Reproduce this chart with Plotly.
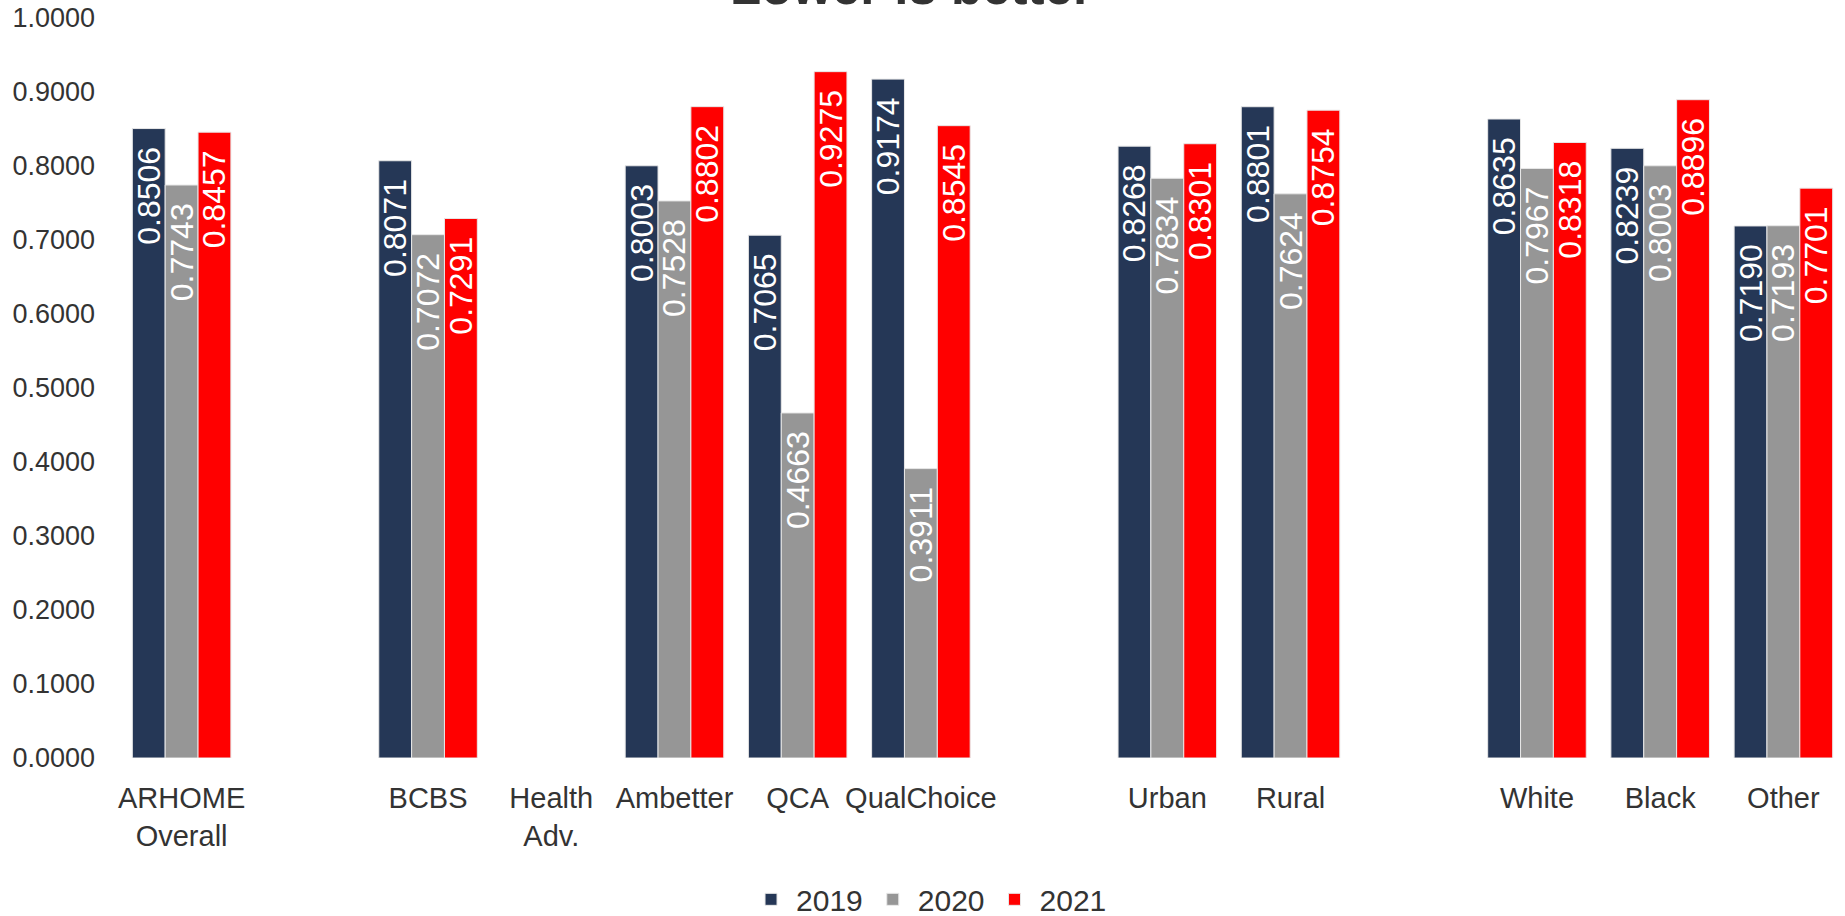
import plotly.graph_objects as go

categories = ["ARHOME<br>Overall", " ", "BCBS", "Health<br>Adv.", "Ambetter", "QCA", "QualChoice",
              "  ", "Urban", "Rural", "   ", "White", "Black", "Other"]
v2019 = [0.8506, None, 0.8071, None, 0.8003, 0.7065, 0.9174, None, 0.8268, 0.8801, None, 0.8635, 0.8239, 0.7190]
v2020 = [0.7743, None, 0.7072, None, 0.7528, 0.4663, 0.3911, None, 0.7834, 0.7624, None, 0.7967, 0.8003, 0.7193]
v2021 = [0.8457, None, 0.7291, None, 0.8802, 0.9275, 0.8545, None, 0.8301, 0.8754, None, 0.8318, 0.8896, 0.7701]
series = [("2019", v2019, "#253756"), ("2020", v2020, "#969696"), ("2021", v2021, "#FF0000")]
title_text = "Lower is better"

FONT = "Liberation Sans"
fig = go.Figure()
for name, vals, color in series:
    fig.add_trace(go.Bar(
        x=categories, y=vals, name=name,
        marker=dict(color=color, line=dict(color="#E8E8E8", width=1)),
        text=[f"{v:.4f}\u00a0\u2009" if v is not None else "" for v in vals],
        textposition="inside", insidetextanchor="end", textangle=-90,
        textfont=dict(color="white", size=32, family=FONT),
        cliponaxis=False,
    ))

fig.update_layout(
    width=1845, height=916,
    margin=dict(l=120, r=0, t=18, b=158, autoexpand=False),
    barmode="group", bargap=0.2, bargroupgap=0,
    plot_bgcolor="white", paper_bgcolor="white",
    font=dict(family=FONT, size=27, color="#333333"),
    uniformtext=dict(mode="show", minsize=32),
    legend=dict(orientation="h", x=0.469, xanchor="center", y=-0.191, yanchor="middle",
                font=dict(size=30, color="#333333"), itemwidth=40, traceorder="normal"),
    showlegend=True,
    xaxis=dict(type="category", showgrid=False, showline=False, zeroline=False, automargin=False,
               ticks="", ticklabelstandoff=20, tickfont=dict(size=29, color="#333333")),
    yaxis=dict(range=[0, 1], dtick=0.1, tickformat=".4f", showgrid=False, showline=False, automargin=False,
               zeroline=False, ticks="", ticklabelstandoff=24, tickfont=dict(size=27, color="#333333")),
    annotations=[dict(text=f"<b>{title_text}</b>", xref="paper", yref="paper", x=0.459, y=1.0014,
                      xanchor="center", yanchor="bottom", showarrow=False,
                      font=dict(size=51, color="#333333", family=FONT))],
)
fig.write_html("out.html", config={"displayModeBar": False},
               post_script="document.body.style.margin='0';document.body.style.padding='0';document.body.style.overflow='hidden';")
